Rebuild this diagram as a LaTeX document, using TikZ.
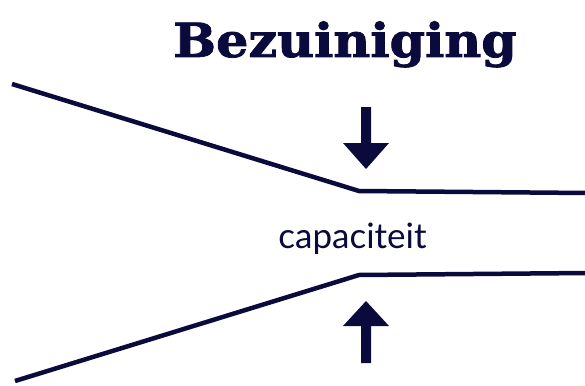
\documentclass[tikz,border=0pt]{standalone}
\usepackage{fontspec}
\newfontfamily\titlefont{DejaVu Serif}[BoldFeatures={FakeBold=1.6}]
\newfontfamily\labelfont{Lato}
\definecolor{navy}{HTML}{0B0A3C}
\tikzset{
  channel/.style={draw=navy, line width=4.5pt, line join=miter},
  blockarrow/.style={fill=navy, draw=none},
  heading/.style={inner sep=0pt, anchor=base, text=navy, font=\titlefont\bfseries\fontsize{47}{52}\selectfont},
  caption/.style={inner sep=0pt, anchor=base, text=navy, font=\labelfont\fontsize{35}{40}\selectfont}
}
\begin{document}
\begin{tikzpicture}[x=1pt, y=-1pt]
  \useasboundingbox (0,0) rectangle (585,385);
  \fill[white] (0,0) rectangle (585,385);

  % heading, stretched a little to the width of the column
  \node[heading] (title) at (345,57) {\scalebox{1.08}[1]{Bezuiniging}};

  % narrowing channel walls
  \coordinate (tl) at (12,84);
  \coordinate (tc) at (359,191);
  \coordinate (tr) at (587,193);
  \coordinate (bl) at (15,381);
  \coordinate (bc) at (359,275);
  \coordinate (br) at (587,273);
  \draw[channel] (tl) -- (tc) -- (tr);
  \draw[channel] (bl) -- (bc) -- (br);

  % label in the narrow part
  \node[caption] (cap) at (352.5,248) {capaciteit};

  % pressing arrows
  \fill[blockarrow] (361,107) -- (371,107) -- (371,143) -- (389,143) -- (366,169)
     -- (343,143) -- (361,143) -- cycle;
  \fill[blockarrow] (361,363) -- (371,363) -- (371,326) -- (389,326) -- (366,301)
     -- (343,326) -- (361,326) -- cycle;
\end{tikzpicture}
\end{document}
